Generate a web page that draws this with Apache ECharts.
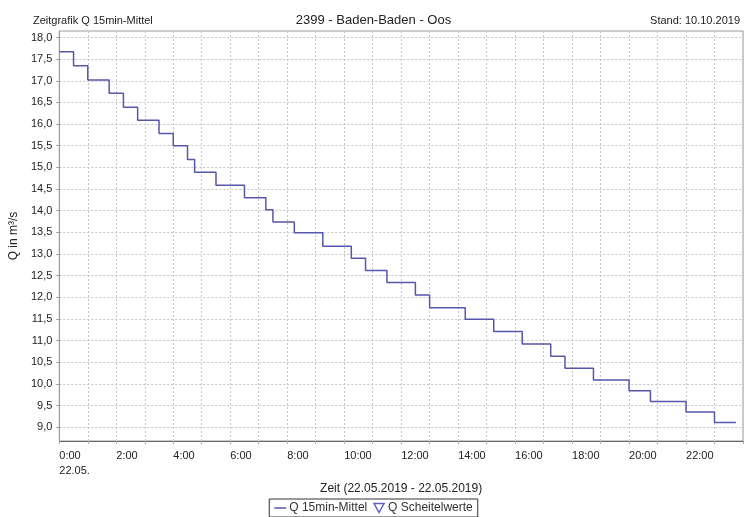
<!DOCTYPE html>
<html>
<head>
<meta charset="utf-8">
<title>2399 - Baden-Baden - Oos</title>
<script src="https://cdn.jsdelivr.net/npm/echarts@6/dist/echarts.min.js"></script>
<style>
  html, body { margin: 0; padding: 0; background: #fff; }
  #chart { width: 747px; height: 517px; }
</style>
</head>
<body>
<div id="chart"></div>
<script>
// Zeitpunkte der Stufenwechsel (22.05.2019) und Q 15min-Mittel in m³/s
const stepTimes = ['0:00', '0:30', '1:00', '1:45', '2:15', '2:45', '3:30', '4:00', '4:30', '4:45',
  '5:30', '6:30', '7:15', '7:30', '8:15', '9:15', '10:15', '10:45', '11:30', '12:30',
  '13:00', '14:15', '15:15', '16:15', '17:15', '17:45', '18:45', '20:00', '20:45', '22:00',
  '23:00', '23:45']
const qValues = [17.67, 17.35, 17.02, 16.71, 16.39, 16.09, 15.78, 15.50, 15.18, 14.89,
  14.59, 14.30, 14.02, 13.74, 13.49, 13.18, 12.90, 12.62, 12.34, 12.05,
  11.76, 11.49, 11.21, 10.92, 10.64, 10.36, 10.09, 9.84, 9.59, 9.35,
  9.11, 9.11]
// Scheitelwerte: keine Werte im Zeitraum
const peakValues = []

const yTicks = [9.0, 9.5, 10.0, 10.5, 11.0, 11.5, 12.0, 12.5, 13.0, 13.5,
  14.0, 14.5, 15.0, 15.5, 16.0, 16.5, 17.0, 17.5, 18.0]

const toHours = s => {
  const [h, m] = s.split(':').map(Number)
  return h + m / 60
}
const lineData = stepTimes.map((t, i) => [toHours(t), qValues[i]])

const font = 'Liberation Sans, Arial, sans-serif'
const lineColor = '#5656ab'
const peakColor = '#3a3ab0'

const chart = echarts.init(document.getElementById('chart'), null, { renderer: 'canvas' })

chart.setOption({
  animation: false,
  backgroundColor: '#fff',
  textStyle: { fontFamily: font },
  title: [
    { text: 'Zeitgrafik Q 15min-Mittel', left: 28, top: 10,
      textStyle: { fontSize: 11, fontWeight: 'normal', color: '#222', fontFamily: font } },
    { text: '2399 - Baden-Baden - Oos', left: 'center', top: 9,
      textStyle: { fontSize: 13, fontWeight: 'normal', color: '#222', fontFamily: font } },
    { text: 'Stand: 10.10.2019', right: 2, top: 10,
      textStyle: { fontSize: 11, fontWeight: 'normal', color: '#222', fontFamily: font } }
  ],
  grid: {
    left: 57, right: 4, top: 31, bottom: 76,
    show: true, borderColor: '#9a9a9a', borderWidth: 1
  },
  legend: {
    left: 'center',
    top: 499,
    padding: [3, 5, 3, 5],
    borderColor: '#333',
    borderWidth: 1,
    itemGap: 6,
    itemWidth: 12,
    itemHeight: 9,
    symbolKeepAspect: true,
    textStyle: { fontSize: 12, color: '#333', fontFamily: font, padding: [0, 0, 0, -2] },
    data: [
      { name: 'Q 15min-Mittel', icon: 'path://M0,0H12V1.5H0Z',
        itemStyle: { color: lineColor, borderWidth: 0 } },
      { name: 'Q Scheitelwerte', icon: 'path://M0,0L10,0L5,9Z',
        itemStyle: { color: '#fff', borderColor: peakColor, borderWidth: 1.5 } }
    ]
  },
  xAxis: {
    type: 'value',
    min: 0,
    max: 24,
    interval: 1,
    name: 'Zeit (22.05.2019 - 22.05.2019)',
    nameLocation: 'middle',
    nameGap: 40,
    nameTextStyle: { fontSize: 12, color: '#222', fontFamily: font },
    axisLine: { show: true, lineStyle: { color: '#666', width: 1.2 } },
    axisTick: { show: true, length: 3, lineStyle: { color: '#aaa' } },
    axisLabel: {
      color: '#222',
      fontSize: 11,
      margin: 7,
      align: 'left',
      lineHeight: 15,
      showMaxLabel: true,
      formatter: v => {
        if (v === 0) return '0:00\n22.05.'
        if (v % 2 !== 0 || v >= 24) return ''
        return v + ':00'
      }
    },
    splitLine: { show: true, lineStyle: { color: '#c4c4c4', type: [2, 2], width: 1 } }
  },
  yAxis: {
    type: 'value',
    min: 8.68,
    max: 18.15,
    name: 'Q in m³/s',
    nameLocation: 'middle',
    nameGap: 38,
    nameTextStyle: { fontSize: 12, color: '#222', fontFamily: font },
    axisLine: { show: true, lineStyle: { color: '#9a9a9a' } },
    axisTick: { show: true, length: 3, customValues: yTicks, lineStyle: { color: '#9a9a9a' } },
    axisLabel: {
      color: '#222',
      fontSize: 11,
      margin: 7,
      customValues: yTicks,
      formatter: v => v.toFixed(1).replace('.', ',')
    },
    splitLine: { show: true, lineStyle: { color: '#c4c4c4', type: [2, 2], width: 1 } }
  },
  series: [
    {
      name: 'Q 15min-Mittel',
      type: 'line',
      step: 'end',
      symbol: 'none',
      data: lineData,
      color: lineColor,
      lineStyle: { color: lineColor, width: 1.5 }
    },
    {
      name: 'Q Scheitelwerte',
      type: 'scatter',
      symbol: 'path://M0,0L10,0L5,9Z',
      symbolSize: 8,
      data: peakValues,
      itemStyle: { color: '#fff', borderColor: peakColor, borderWidth: 1.5 }
    }
  ]
})
</script>
</body>
</html>
